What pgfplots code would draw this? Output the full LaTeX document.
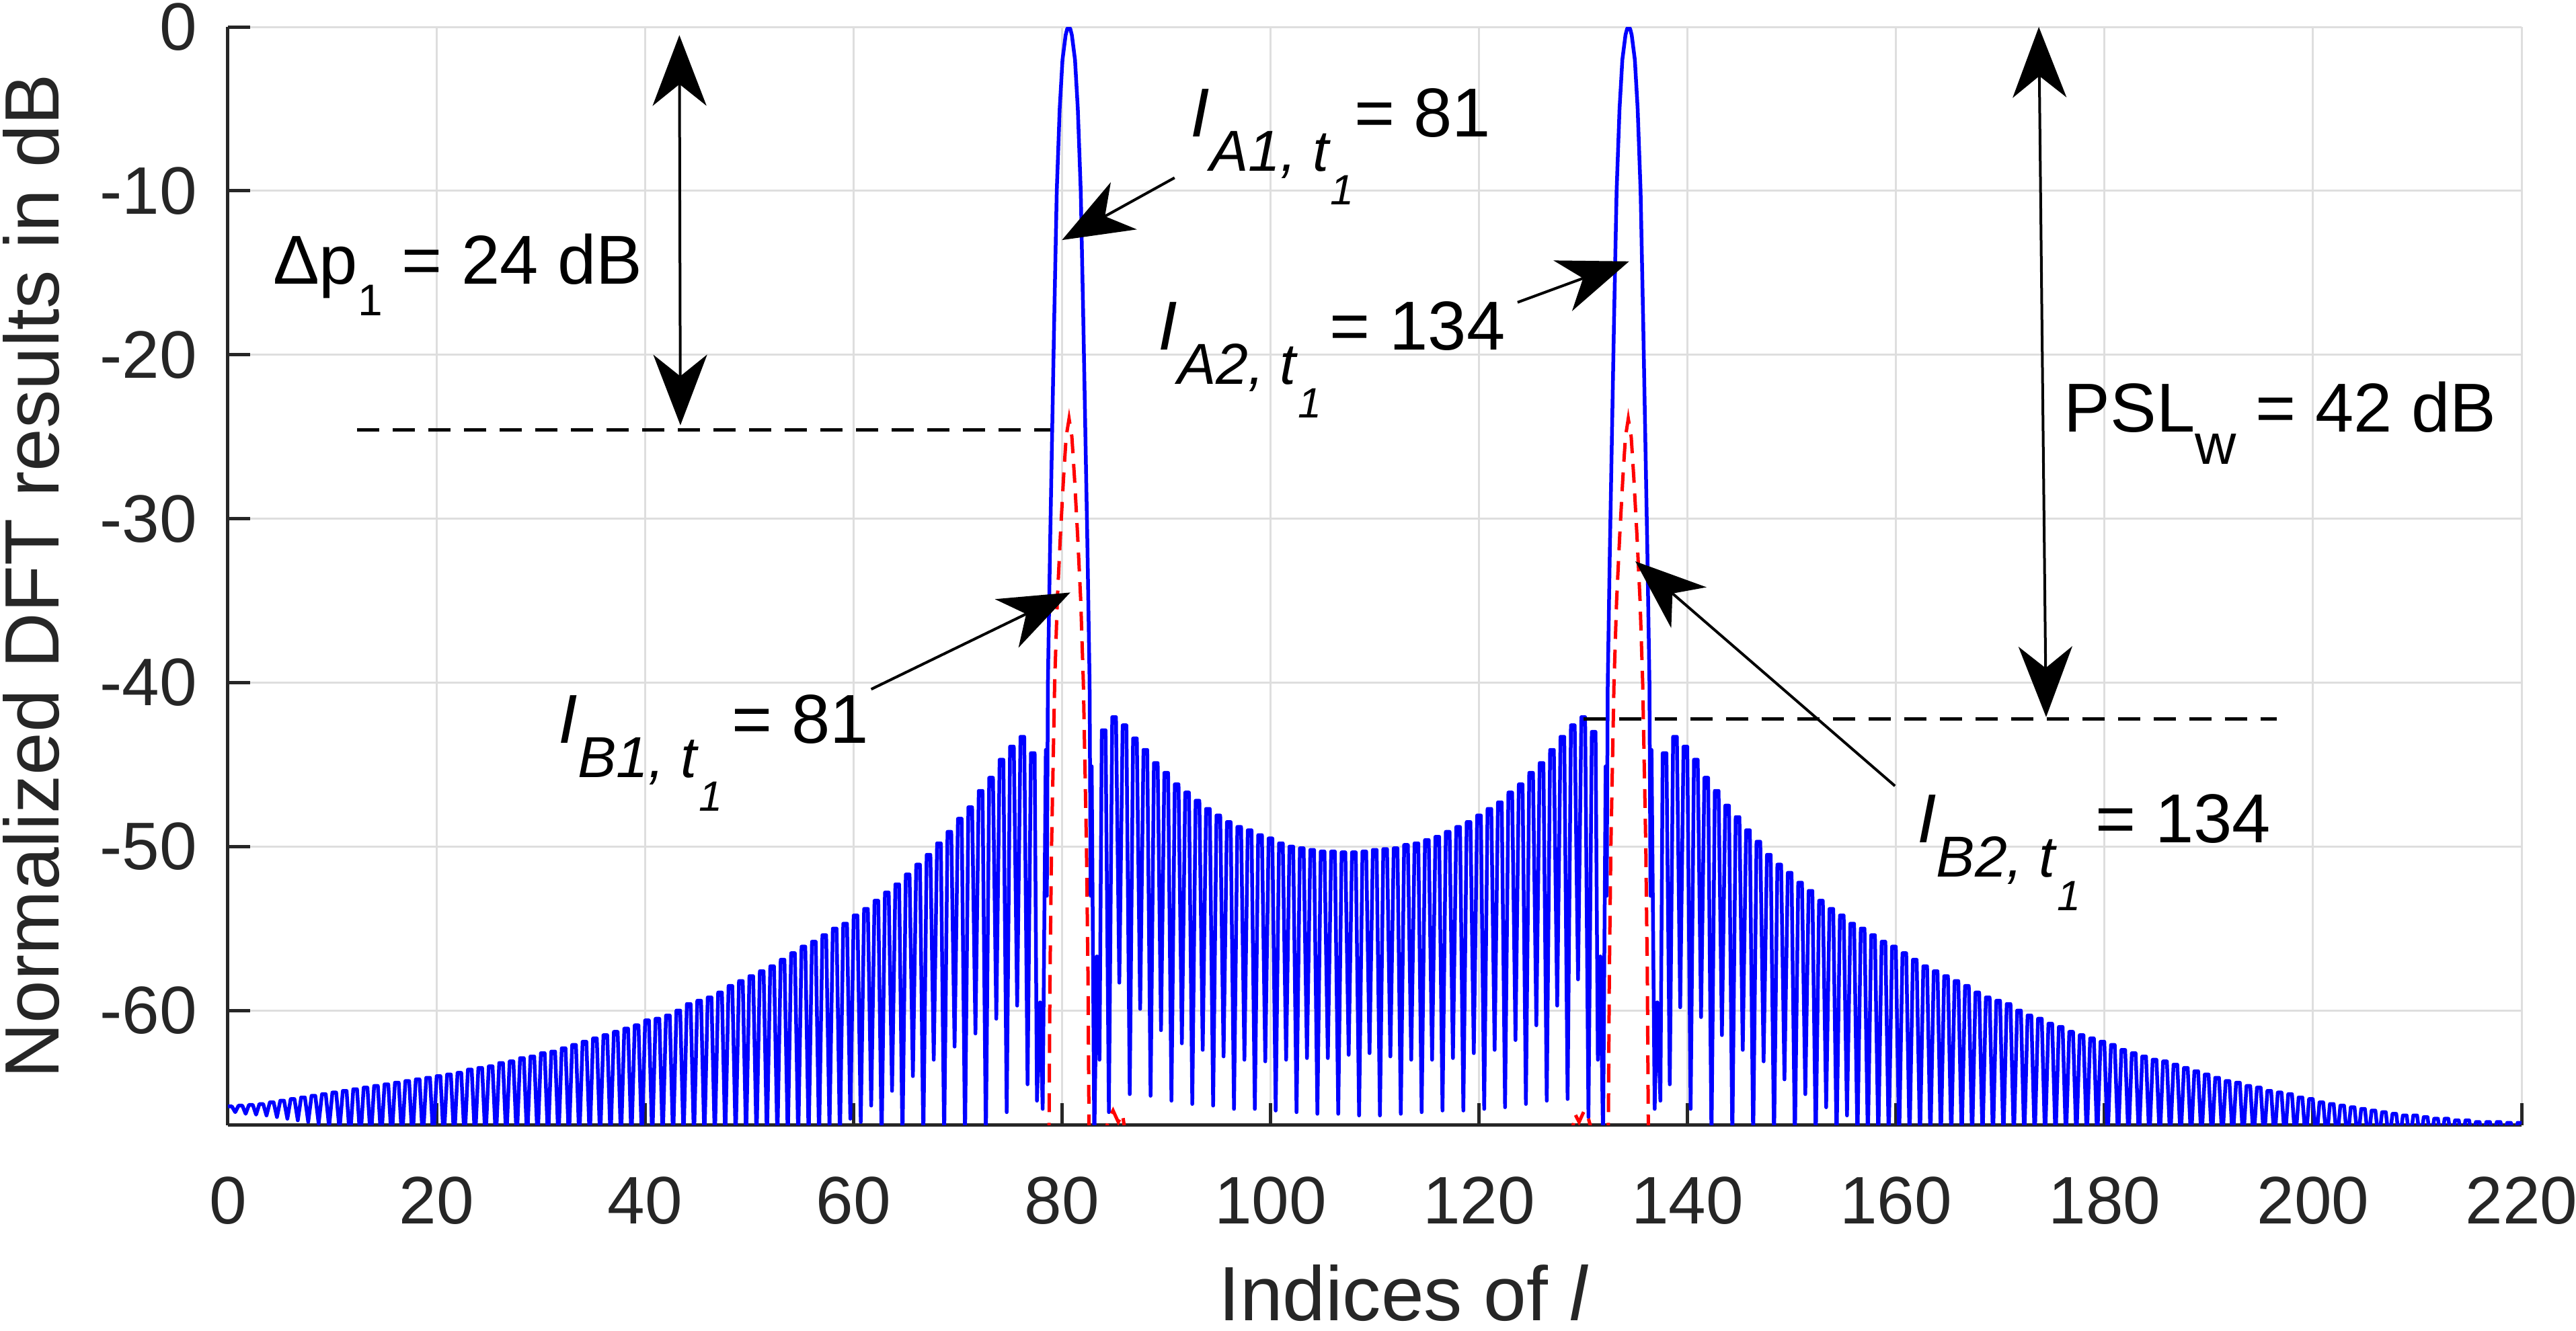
\documentclass[border=0pt]{standalone}
\usepackage{fontspec}
\setmainfont{Liberation Sans}
\usepackage{pgfplots}
\pgfplotsset{compat=1.18}
\usetikzlibrary{arrows.meta}
\newcommand{\an}{\fontsize{10.3}{12.4}\selectfont}
\newcommand{\sa}[1]{\raisebox{-5.1pt}{\fontsize{8.6}{10}\selectfont #1}}
\newcommand{\ssa}[1]{\raisebox{-5.0pt}{\fontsize{6.3}{7.5}\selectfont #1}}
\begin{document}
\begin{tikzpicture}[>={Stealth[length=10.5pt,width=8pt,inset=3.2pt]}]
\begin{axis}[
  at={(0,0)}, anchor=south west,
  scale only axis, width=341.1pt, height=163.4pt,
  xmin=0, xmax=220, ymin=-67, ymax=0,
  xtick={0,20,...,220}, ytick={-60,-50,...,0},
  axis x line*=bottom, axis y line*=left,
  axis line style={line width=0.5pt, draw=black!85},
  tick align=inside, major tick length=3.3pt,
  tick style={line width=0.5pt, draw=black!85},
  grid=major, major grid style={line width=0.3pt, draw=black!13},
  tick label style={font=\fontsize{10}{12}\selectfont, text=black!85, inner sep=0pt},
  /pgf/number format/assume math mode=true,
  yticklabel style={xshift=-4.4pt},
  xticklabel style={yshift=-7.5pt},
  xlabel={Indices of \textit{l}},
  ylabel={Normalized DFT results in dB},
  label style={font=\fontsize{11.45}{13.5}\selectfont, text=black!85, inner sep=0pt},
  xlabel style={at={(axis description cs:0.4313,-0.1775)}, anchor=base west},
  ylabel style={at={(axis description cs:-0.07359,0.5)}, anchor=base},
  clip mode=individual,
]
% blue spectrum
\addplot[blue, line width=0.55pt, line join=round] coordinates {
(0,-65.9)
(0.02,-65.85) (0.38,-65.85) (0.7,-66.2)
(1.02,-65.8) (1.38,-65.8) (1.7,-66.3)
(2.02,-65.75) (2.38,-65.75) (2.7,-66.35)
(3.02,-65.7) (3.38,-65.7) (3.7,-66.4)
(4.02,-65.6) (4.38,-65.6) (4.7,-66.5)
(5.02,-65.5) (5.38,-65.5) (5.7,-66.6)
(6.02,-65.4) (6.38,-65.4) (6.7,-66.7)
(7.02,-65.3) (7.38,-65.3) (7.7,-66.8)
(8.02,-65.2) (8.38,-65.2) (8.7,-66.9)
(9.02,-65.1) (9.38,-65.1) (9.7,-67.1)
(10.02,-65) (10.38,-65) (10.7,-67.3)
(11.02,-64.9) (11.38,-64.9) (11.7,-68)
(12.02,-64.8) (12.38,-64.8) (12.7,-68)
(13.02,-64.7) (13.38,-64.7) (13.7,-68)
(14.02,-64.6) (14.38,-64.6) (14.7,-68)
(15.02,-64.5) (15.38,-64.5) (15.7,-68)
(16.02,-64.4) (16.38,-64.4) (16.7,-68)
(17.02,-64.3) (17.38,-64.3) (17.7,-68)
(18.02,-64.2) (18.38,-64.2) (18.7,-68)
(19.02,-64.1) (19.38,-64.1) (19.7,-68)
(20.02,-64) (20.38,-64) (20.7,-68)
(21.02,-63.9) (21.38,-63.9) (21.7,-68)
(22.02,-63.8) (22.38,-63.8) (22.7,-68)
(23.02,-63.6) (23.38,-63.6) (23.7,-68)
(24.02,-63.5) (24.38,-63.5) (24.7,-68)
(25.02,-63.4) (25.38,-63.4) (25.7,-68)
(26.02,-63.2) (26.38,-63.2) (26.7,-68)
(27.02,-63.1) (27.38,-63.1) (27.7,-68)
(28.02,-62.9) (28.38,-62.9) (28.7,-68)
(29.02,-62.8) (29.38,-62.8) (29.7,-68)
(30.02,-62.6) (30.38,-62.6) (30.7,-68)
(31.02,-62.5) (31.38,-62.5) (31.7,-68)
(32.02,-62.3) (32.38,-62.3) (32.7,-68)
(33.02,-62.1) (33.38,-62.1) (33.7,-68)
(34.02,-61.9) (34.38,-61.9) (34.7,-68)
(35.02,-61.7) (35.38,-61.7) (35.7,-68)
(36.02,-61.5) (36.38,-61.5) (36.7,-68)
(37.02,-61.3) (37.38,-61.3) (37.7,-68)
(38.02,-61.1) (38.38,-61.1) (38.7,-68)
(39.02,-60.9) (39.38,-60.9) (39.7,-68)
(40.02,-60.6) (40.38,-60.6) (40.7,-68)
(41.02,-60.5) (41.38,-60.5) (41.7,-68)
(42.02,-60.3) (42.38,-60.3) (42.7,-68)
(43.02,-60) (43.38,-60) (43.7,-68)
(44.02,-59.6) (44.38,-59.6) (44.7,-68)
(45.02,-59.4) (45.38,-59.4) (45.7,-68)
(46.02,-59.2) (46.38,-59.2) (46.7,-68)
(47.02,-58.9) (47.38,-58.9) (47.7,-68)
(48.02,-58.5) (48.38,-58.5) (48.7,-68)
(49.02,-58.2) (49.38,-58.2) (49.7,-68)
(50.02,-57.9) (50.38,-57.9) (50.7,-68)
(51.02,-57.6) (51.38,-57.6) (51.7,-68)
(52.02,-57.3) (52.38,-57.3) (52.7,-68)
(53.02,-56.9) (53.38,-56.9) (53.7,-68)
(54.02,-56.5) (54.38,-56.5) (54.7,-68)
(55.02,-56.1) (55.38,-56.1) (55.7,-68)
(56.02,-55.8) (56.38,-55.8) (56.7,-68)
(57.02,-55.4) (57.38,-55.4) (57.7,-67.3)
(58.02,-55) (58.38,-55) (58.7,-68)
(59.02,-54.7) (59.38,-54.7) (59.7,-66.6)
(60.02,-54.2) (60.38,-54.2) (60.7,-66.8)
(61.02,-53.8) (61.38,-53.8) (61.7,-65.8)
(62.02,-53.3) (62.38,-53.3) (62.7,-68)
(63.02,-52.8) (63.38,-52.8) (63.7,-64.9)
(64.02,-52.3) (64.38,-52.3) (64.7,-68)
(65.02,-51.7) (65.38,-51.7) (65.7,-64)
(66.02,-51.1) (66.38,-51.1) (66.7,-68)
(67.02,-50.5) (67.38,-50.5) (67.7,-63)
(68.02,-49.8) (68.38,-49.8) (68.7,-68)
(69.02,-49.1) (69.38,-49.1) (69.7,-62.2)
(70.02,-48.3) (70.38,-48.3) (70.7,-68)
(71.02,-47.6) (71.38,-47.6) (71.7,-61.4)
(72.02,-46.6) (72.38,-46.6) (72.7,-68)
(73.02,-45.8) (73.38,-45.8) (73.7,-60.5)
(74.02,-44.7) (74.38,-44.7) (74.7,-66.2)
(75.02,-43.9) (75.38,-43.9) (75.7,-59.7)
(76.02,-43.3) (76.38,-43.3) (76.7,-64.5)
(77.02,-44.3) (77.38,-44.3) (77.6,-65.5) (77.9,-59.5) (78.15,-66) (78.45,-44.1) (78.55,-53)
(78.65,-40) (78.85,-32) (79.05,-25) (79.25,-18) (79.5,-10) (79.78,-5) (80.05,-2) (80.35,-0.5) (80.5,-0.12) (80.65,0)
(80.8,-0.12) (80.95,-0.5) (81.25,-2) (81.52,-5) (81.8,-10) (82.05,-18) (82.25,-25) (82.45,-32) (82.65,-40)
(82.75,-53) (82.85,-45.1) (83.1,-68) (83.35,-56.7) (83.6,-63)
(83.82,-42.9) (84.18,-42.9) (84.5,-66.2)
(84.82,-42.1) (85.18,-42.1) (85.5,-58.3)
(85.82,-42.6) (86.18,-42.6) (86.5,-65.1)
(86.82,-43.4) (87.18,-43.4) (87.5,-59.9)
(87.82,-44.1) (88.18,-44.1) (88.5,-65.2)
(88.82,-44.9) (89.18,-44.9) (89.5,-61.2)
(89.82,-45.5) (90.18,-45.5) (90.5,-65.5)
(90.82,-46.2) (91.18,-46.2) (91.5,-62)
(91.82,-46.7) (92.18,-46.7) (92.5,-65.7)
(92.82,-47.2) (93.18,-47.2) (93.5,-62.4)
(93.82,-47.7) (94.18,-47.7) (94.5,-65.8)
(94.82,-48.1) (95.18,-48.1) (95.5,-62.8)
(95.82,-48.5) (96.18,-48.5) (96.5,-66)
(96.82,-48.8) (97.18,-48.8) (97.5,-63)
(97.82,-49) (98.18,-49) (98.5,-66)
(98.82,-49.3) (99.18,-49.3) (99.5,-63.1)
(99.82,-49.5) (100.18,-49.5) (100.5,-66.1)
(100.82,-49.8) (101.18,-49.8) (101.5,-63)
(101.82,-50) (102.18,-50) (102.5,-66.2)
(102.82,-50.1) (103.18,-50.1) (103.5,-62.9)
(103.82,-50.2) (104.18,-50.2) (104.5,-66.3)
(104.82,-50.3) (105.18,-50.3) (105.5,-62.9)
(105.82,-50.3) (106.18,-50.3) (106.5,-66.3)
(106.82,-50.35) (107.18,-50.35) (107.5,-62.7)
(107.82,-50.35) (108.18,-50.35) (108.5,-66.4)
(108.82,-50.3) (109.18,-50.3) (109.5,-62.6)
(109.82,-50.2) (110.18,-50.2) (110.5,-66.4)
(110.82,-50.15) (111.18,-50.15) (111.5,-62.8)
(111.82,-50.1) (112.18,-50.1) (112.5,-66.3)
(112.82,-49.9) (113.18,-49.9) (113.5,-63)
(113.82,-49.8) (114.18,-49.8) (114.5,-66.2)
(114.82,-49.6) (115.18,-49.6) (115.5,-63)
(115.82,-49.4) (116.18,-49.4) (116.5,-66.1)
(116.82,-49.1) (117.18,-49.1) (117.5,-62.9)
(117.82,-48.8) (118.18,-48.8) (118.5,-66.1)
(118.82,-48.5) (119.18,-48.5) (119.5,-62.6)
(119.82,-48.1) (120.18,-48.1) (120.5,-66)
(120.82,-47.7) (121.18,-47.7) (121.5,-62.4)
(121.82,-47.3) (122.18,-47.3) (122.5,-65.9)
(122.82,-46.7) (123.18,-46.7) (123.5,-61.8)
(123.82,-46.2) (124.18,-46.2) (124.5,-65.7)
(124.82,-45.5) (125.18,-45.5) (125.5,-60.9)
(125.82,-44.9) (126.18,-44.9) (126.5,-65.5)
(126.82,-44.1) (127.18,-44.1) (127.5,-59.7)
(127.82,-43.3) (128.18,-43.3) (128.5,-65.4)
(128.82,-42.6) (129.18,-42.6) (129.5,-58.1)
(129.82,-42.1) (130.18,-42.1) (130.5,-66.5)
(130.82,-43) (131.18,-43) (131.4,-63) (131.65,-56.7) (131.9,-68) (132.15,-45.1) (132.25,-53)
(132.35,-40) (132.55,-32) (132.75,-25) (132.95,-18) (133.2,-10) (133.48,-5) (133.75,-2) (134.05,-0.5) (134.2,-0.12) (134.35,0)
(134.5,-0.12) (134.65,-0.5) (134.95,-2) (135.22,-5) (135.5,-10) (135.75,-18) (135.95,-25) (136.15,-32) (136.35,-40)
(136.45,-53) (136.55,-44.1) (136.85,-66) (137.1,-59.5) (137.4,-65.5)
(137.62,-44.3) (137.98,-44.3) (138.3,-64.5)
(138.62,-43.3) (138.98,-43.3) (139.3,-59.8)
(139.62,-43.9) (139.98,-43.9) (140.3,-66)
(140.62,-44.7) (140.98,-44.7) (141.3,-60.4)
(141.62,-45.8) (141.98,-45.8) (142.3,-68)
(142.62,-46.6) (142.98,-46.6) (143.3,-61.5)
(143.62,-47.5) (143.98,-47.5) (144.3,-68)
(144.62,-48.2) (144.98,-48.2) (145.3,-62.4)
(145.62,-49) (145.98,-49) (146.3,-68)
(146.62,-49.7) (146.98,-49.7) (147.3,-63.1)
(147.62,-50.5) (147.98,-50.5) (148.3,-68)
(148.62,-51.1) (148.98,-51.1) (149.3,-64.2)
(149.62,-51.6) (149.98,-51.6) (150.3,-68)
(150.62,-52.2) (150.98,-52.2) (151.3,-65.1)
(151.62,-52.7) (151.98,-52.7) (152.3,-68)
(152.62,-53.3) (152.98,-53.3) (153.3,-65.9)
(153.62,-53.8) (153.98,-53.8) (154.3,-68)
(154.62,-54.2) (154.98,-54.2) (155.3,-66.4)
(155.62,-54.7) (155.98,-54.7) (156.3,-68)
(156.62,-55) (156.98,-55) (157.3,-68)
(157.62,-55.4) (157.98,-55.4) (158.3,-68)
(158.62,-55.8) (158.98,-55.8) (159.3,-68)
(159.62,-56.1) (159.98,-56.1) (160.3,-68)
(160.62,-56.5) (160.98,-56.5) (161.3,-68)
(161.62,-56.9) (161.98,-56.9) (162.3,-68)
(162.62,-57.3) (162.98,-57.3) (163.3,-68)
(163.62,-57.6) (163.98,-57.6) (164.3,-68)
(164.62,-57.9) (164.98,-57.9) (165.3,-68)
(165.62,-58.2) (165.98,-58.2) (166.3,-68)
(166.62,-58.5) (166.98,-58.5) (167.3,-68)
(167.62,-58.9) (167.98,-58.9) (168.3,-68)
(168.62,-59.2) (168.98,-59.2) (169.3,-68)
(169.62,-59.4) (169.98,-59.4) (170.3,-68)
(170.62,-59.6) (170.98,-59.6) (171.3,-68)
(171.62,-60) (171.98,-60) (172.3,-68)
(172.62,-60.3) (172.98,-60.3) (173.3,-68)
(173.62,-60.5) (173.98,-60.5) (174.3,-68)
(174.62,-60.8) (174.98,-60.8) (175.3,-68)
(175.62,-61) (175.98,-61) (176.3,-68)
(176.62,-61.3) (176.98,-61.3) (177.3,-68)
(177.62,-61.5) (177.98,-61.5) (178.3,-68)
(178.62,-61.7) (178.98,-61.7) (179.3,-68)
(179.62,-61.9) (179.98,-61.9) (180.3,-68)
(180.62,-62.1) (180.98,-62.1) (181.3,-68)
(181.62,-62.4) (181.98,-62.4) (182.3,-68)
(182.62,-62.6) (182.98,-62.6) (183.3,-68)
(183.62,-62.8) (183.98,-62.8) (184.3,-68)
(184.62,-63) (184.98,-63) (185.3,-68)
(185.62,-63.1) (185.98,-63.1) (186.3,-68)
(186.62,-63.3) (186.98,-63.3) (187.3,-68)
(187.62,-63.5) (187.98,-63.5) (188.3,-68)
(188.62,-63.7) (188.98,-63.7) (189.3,-68)
(189.62,-63.9) (189.98,-63.9) (190.3,-68)
(190.62,-64.1) (190.98,-64.1) (191.3,-68)
(191.62,-64.3) (191.98,-64.3) (192.3,-68)
(192.62,-64.4) (192.98,-64.4) (193.3,-68)
(193.62,-64.6) (193.98,-64.6) (194.3,-68)
(194.62,-64.7) (194.98,-64.7) (195.3,-68)
(195.62,-64.9) (195.98,-64.9) (196.3,-68)
(196.62,-65) (196.98,-65) (197.3,-68)
(197.62,-65.1) (197.98,-65.1) (198.3,-68)
(198.62,-65.3) (198.98,-65.3) (199.3,-68)
(199.62,-65.4) (199.98,-65.4) (200.3,-68)
(200.62,-65.6) (200.98,-65.6) (201.3,-68)
(201.62,-65.7) (201.98,-65.7) (202.3,-68)
(202.62,-65.8) (202.98,-65.8) (203.3,-68)
(203.62,-65.9) (203.98,-65.9) (204.3,-68)
(204.62,-66) (204.98,-66) (205.3,-68)
(205.62,-66.1) (205.98,-66.1) (206.3,-68)
(206.62,-66.2) (206.98,-66.2) (207.3,-68)
(207.62,-66.3) (207.98,-66.3) (208.3,-68)
(208.62,-66.4) (208.98,-66.4) (209.3,-68)
(209.62,-66.4) (209.98,-66.4) (210.3,-68)
(210.62,-66.5) (210.98,-66.5) (211.3,-68)
(211.62,-66.6) (211.98,-66.6) (212.3,-68)
(212.62,-66.6) (212.98,-66.6) (213.3,-68)
(213.62,-66.7) (213.98,-66.7) (214.3,-68)
(214.62,-66.7) (214.98,-66.7) (215.3,-68)
(215.62,-66.8) (215.98,-66.8) (216.3,-68)
(216.62,-66.8) (216.98,-66.8) (217.3,-68)
(217.62,-66.8) (217.98,-66.8) (218.3,-68)
(218.62,-66.85) (218.98,-66.85) (219.3,-68)
(219.62,-66.85) (219.98,-66.85) (220,-66.9)
};
% red dashed spectrum (visible parts)
\addplot[red, line width=0.5pt, dash pattern=on 2.8pt off 1.6pt] coordinates {
(78.75,-68) (78.85,-58) (79,-50) (79.3,-40) (79.55,-35) (79.85,-31) (80.15,-27.5) (80.4,-25) (80.68,-23.9)
(80.95,-25) (81.2,-27.5) (81.5,-31) (81.8,-35) (82.05,-40) (82.35,-50) (82.5,-58) (82.6,-68)
};
\addplot[red, line width=0.5pt, dash pattern=on 2.8pt off 1.6pt] coordinates {
(83.9,-68) (84.5,-66.6) (84.9,-66.1) (85.4,-66.8) (85.8,-66.3) (86.2,-68)
};
\addplot[red, line width=0.5pt, dash pattern=on 2.8pt off 1.6pt] coordinates {
(128.8,-68) (129.2,-66.3) (129.6,-66.8) (130.1,-66.1) (130.5,-66.6) (131.1,-68)
};
\addplot[red, line width=0.5pt, dash pattern=on 2.8pt off 1.6pt] coordinates {
(132.4,-68) (132.5,-58) (132.65,-50) (132.95,-40) (133.2,-35) (133.5,-31) (133.8,-27.5) (134.05,-25) (134.32,-23.9)
(134.6,-25) (134.85,-27.5) (135.15,-31) (135.45,-35) (135.7,-40) (136,-50) (136.15,-58) (136.25,-68)
};
% annotations
\draw[black, line width=0.5pt, dash pattern=on 3.3pt off 2pt] (axis cs:12.4,-24.6) -- (axis cs:78.9,-24.6);
\draw[black, line width=0.5pt, dash pattern=on 3.3pt off 2pt] (axis cs:130,-42.2) -- (axis cs:196.5,-42.2);
\draw[black, line width=0.4pt, <->] (axis cs:43.3,-0.5) -- (axis cs:43.4,-24.3);
\draw[black, line width=0.4pt, <->] (axis cs:173.7,0) -- (axis cs:174.4,-42.1);
\draw[black, line width=0.4pt, ->] (axis cs:90.8,-9.2) -- (axis cs:80.0,-13.0);
\draw[black, line width=0.4pt, ->] (axis cs:123.7,-16.8) -- (axis cs:134.4,-14.3);
\draw[black, line width=0.4pt, ->] (axis cs:61.7,-40.4) -- (axis cs:80.8,-34.5);
\draw[black, line width=0.4pt, ->] (axis cs:159.9,-46.3) -- (axis cs:135.0,-32.6);
\node[anchor=base west, inner sep=0pt, font=\an] at (axis cs:4.2,-15.7)
  {Δp\raisebox{-4.7pt}{\fontsize{6.6}{8}\selectfont 1} = 24 dB};
\node[anchor=base west, inner sep=0pt, font=\an] at (axis cs:176.0,-24.7)
  {PSL\raisebox{-4.8pt}{\fontsize{8.5}{10}\selectfont w} = 42 dB};
\node[anchor=base west, inner sep=0pt, font=\an] at (axis cs:92.2,-6.7)
  {\textit{I}\sa{\textit{A1, t}\ssa{\textit{1}}}= 81};
\node[anchor=base west, inner sep=0pt, font=\an] at (axis cs:89.1,-19.7)
  {\textit{I}\sa{\textit{A2, t}\ssa{\textit{1}}}\hspace{1.2pt}= 134};
\node[anchor=base west, inner sep=0pt, font=\an] at (axis cs:31.6,-43.7)
  {\textit{I}\sa{\textit{B1, t}\ssa{\textit{1}}}\hspace{1.4pt}= 81};
\node[anchor=base west, inner sep=0pt, font=\an] at (axis cs:161.9,-49.75)
  {\textit{I}\sa{\textit{B2, t}\ssa{\textit{1}}}\hspace{2.2pt}= 134};
\end{axis}
\pgfresetboundingbox
\useasboundingbox (-33.9pt,-30.6pt) rectangle (349.2pt,167.4pt);
\end{tikzpicture}
\end{document}
